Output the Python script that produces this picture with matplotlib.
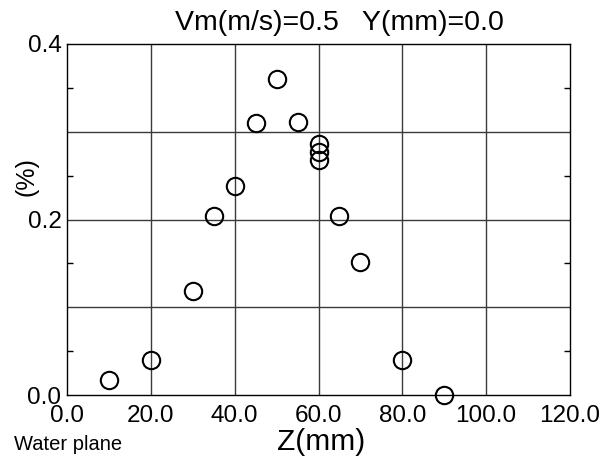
import matplotlib
matplotlib.use("Agg")
import matplotlib.pyplot as plt
from matplotlib.ticker import MultipleLocator, FixedLocator, FormatStrFormatter

plt.rcParams['font.family'] = ['Liberation Sans', 'DejaVu Sans']

z_mm = [10, 20, 30, 35, 40, 45, 50, 55, 60, 60, 60, 65, 70, 80, 90]
pct = [0.017, 0.040, 0.118, 0.204, 0.238, 0.310, 0.360, 0.311, 0.286, 0.277, 0.268, 0.204, 0.151, 0.040, 0.000]

title = "Vm(m/s)=0.5   Y(mm)=0.0"
xlabel = "Z(mm)"
ylabel = "(%)"
note = "Water plane"

W, H = 600, 458
fig = plt.figure(figsize=(W / 100, H / 100), dpi=100)
ax = fig.add_axes([67 / W, 1 - 395 / H, (570 - 67) / W, (395 - 44) / H])

ax.plot(z_mm, pct, linestyle='none', marker='o', markersize=12.5,
        markerfacecolor='none', markeredgecolor='black', markeredgewidth=1.5,
        clip_on=False, zorder=3)

ax.set_xlim(0, 120)
ax.set_ylim(0, 0.4)
ax.xaxis.set_major_locator(MultipleLocator(20))
ax.yaxis.set_major_locator(MultipleLocator(0.2))
ax.yaxis.set_minor_locator(FixedLocator([0.05, 0.15, 0.25, 0.35]))
ax.xaxis.set_major_formatter(FormatStrFormatter('%.1f'))
ax.yaxis.set_major_formatter(FormatStrFormatter('%.1f'))

for gx in range(20, 120, 20):
    ax.axvline(gx, color='#3a3a3a', linewidth=1.0, zorder=1)
for gy in [0.1, 0.2, 0.3]:
    ax.axhline(gy, color='#3a3a3a', linewidth=1.0, zorder=1)

ax.tick_params(axis='both', which='major', length=0, labelsize=17.5)
ax.tick_params(axis='x', which='major', pad=7)
ax.tick_params(axis='y', which='major', pad=4)
ax.tick_params(axis='y', which='minor', direction='in', length=4,
               left=True, right=True, width=1)
for s in ax.spines.values():
    s.set_linewidth(1.0)
    s.set_color('black')

fig.text(339 / W, 1 - 29.5 / H, title, fontsize=20.5, ha='center', va='baseline')
fig.text(321 / W, 1 - 450 / H, xlabel, fontsize=21.5, ha='center', va='baseline')
fig.text(27 / W, 1 - 177 / H, ylabel, fontsize=18, ha='center', va='center',
         rotation=90)
fig.text(14 / W, 1 - 450 / H, note, fontsize=14.5, ha='left', va='baseline')

fig.savefig("out.png", dpi=100)
